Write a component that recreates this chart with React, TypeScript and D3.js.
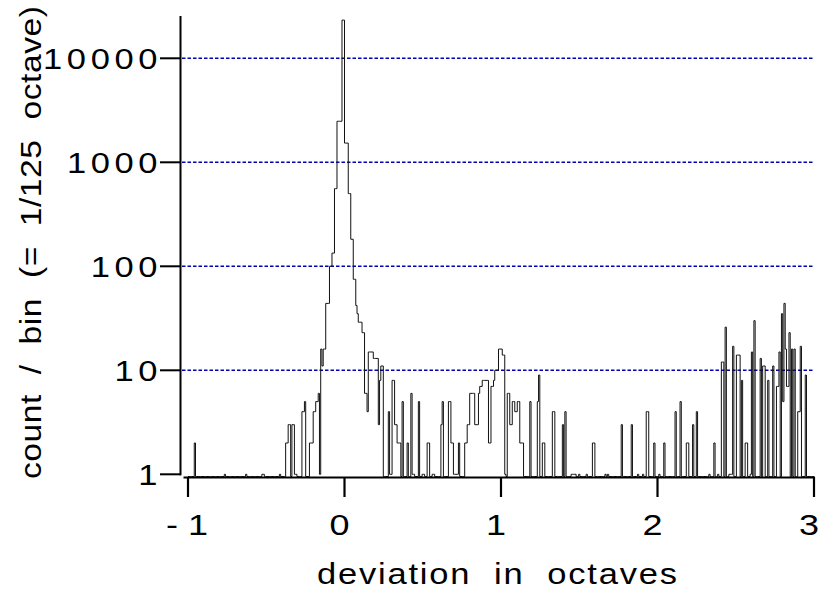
import { useEffect, useRef } from "react";
import * as d3 from "d3";

// histogram bins are 1/125 octave wide; bin k covers [k/125, (k+1)/125)
const binsPerOctave = 125;
const firstBin = -125;
const lastBin = 374;

const xTicks = [-1, 0, 1, 2, 3];
const xTickLabels = ["- 1", "0", "1", "2", "3"];
const yTicks = [1, 10, 100, 1000, 10000];
const yTickLabels = ["1", "10", "100", "1000", "10000"];
const gridValues = [10, 100, 1000, 10000];

// [bin, count] pairs (empty bins left out)
const leftTail = [
  [-120, 2], [-96, 1], [-79, 1], [-66, 1], [-65, 1], [-52, 1],
  [-47, 2], [-46, 2], [-45, 3], [-44, 3], [-42, 3], [-41, 3], [-40, 1], [-39, 1],
  [-34, 4], [-33, 4], [-32, 5],
  [-28, 2], [-27, 2], [-26, 2], [-25, 4], [-24, 4], [-23, 5], [-22, 5], [-21, 6],
  [-20, 1], [-19, 16], [-18, 11], [-17, 16], [-16, 16],
];

const centralPeak = [
  [-15, 44], [-14, 44], [-13, 44], [-12, 100], [-11, 100], [-10, 134], [-9, 134],
  [-8, 558], [-7, 558], [-6, 2480], [-5, 2480], [-4, 2480], [-3, 2480],
  [-2, 23300], [-1, 23300],
  [0, 1530], [1, 1530], [2, 1530], [3, 500], [4, 500], [5, 182], [6, 182],
  [7, 75], [8, 75], [9, 42], [10, 35], [11, 29], [12, 29], [13, 29],
  [14, 23], [15, 23], [16, 6], [17, 6], [18, 4], [19, 15], [20, 15], [21, 15], [22, 15],
  [23, 13], [24, 13], [25, 13], [26, 13], [27, 3], [28, 8], [29, 11], [30, 11],
];

const nearOneOctave = [
  [35, 4], [36, 1], [37, 1], [38, 8], [39, 8], [40, 3], [41, 3], [42, 2], [43, 2], [44, 2],
  [46, 5], [50, 2], [53, 6], [54, 1], [55, 1], [59, 5], [62, 1], [63, 1], [66, 2], [67, 2],
  [70, 1], [71, 1], [77, 3], [78, 5], [83, 5], [84, 5], [85, 2], [86, 2],
  [87, 1], [88, 1], [89, 1], [90, 1], [91, 2], [96, 2], [97, 2], [98, 3], [99, 3],
  [100, 6], [101, 6], [102, 6], [103, 6], [104, 3], [105, 3], [106, 3], [107, 6],
  [108, 7], [109, 7], [110, 8], [111, 8], [112, 8], [113, 8], [114, 8], [115, 2], [116, 2],
  [117, 7], [118, 7], [119, 8], [120, 10], [121, 10], [122, 10], [123, 16], [124, 16], [125, 16],
  [126, 14], [127, 14], [128, 1], [130, 6], [131, 6], [132, 3], [133, 3], [134, 5], [135, 5],
  [136, 4], [137, 4], [138, 5], [139, 5], [140, 2], [141, 2], [142, 2],
  [148, 5], [154, 5], [155, 9], [158, 2], [159, 2], [166, 4], [167, 4],
  [174, 3], [176, 4], [181, 1], [182, 1], [183, 1], [184, 1], [187, 1],
];

const rightTail = [
  [193, 1], [198, 2], [199, 2], [208, 1], [210, 1], [221, 3], [229, 3], [234, 1], [238, 1],
  [241, 4], [242, 4], [247, 2], [251, 1], [255, 2], [264, 4], [268, 5], [273, 2], [274, 2],
  [278, 3], [281, 4], [291, 1], [295, 2], [298, 1], [301, 12], [302, 12], [304, 26],
  [307, 1], [308, 1], [309, 1], [310, 17], [313, 14], [314, 14], [315, 14], [317, 8],
  [320, 2], [321, 2], [324, 1], [325, 15], [327, 30], [332, 13], [334, 11], [335, 11],
  [338, 8], [342, 11], [345, 7], [346, 7], [347, 15], [349, 35], [350, 5], [351, 44],
  [352, 16], [353, 7], [354, 7], [355, 23], [357, 16], [359, 16], [362, 4], [363, 4],
  [364, 17], [368, 9],
];

const FONT = "'Liberation Sans', Arial, Helvetica, sans-serif";

export default function App() {
  const ref = useRef<SVGSVGElement>(null);

  useEffect(() => {
    const svg = d3.select(ref.current);
    svg.selectAll("*").remove();

    const x = d3.scaleLinear().domain([-1, 3]).range([188, 814]);
    const y = d3.scaleLog().domain([1, 10000]).range([474.3, 58.3]);
    const base = 476.5;

    // gridlines
    svg
      .append("g")
      .selectAll("line")
      .data(gridValues)
      .join("line")
      .attr("x1", 182)
      .attr("x2", 814)
      .attr("y1", (d) => y(d))
      .attr("y2", (d) => y(d))
      .attr("stroke", "#0000b4")
      .attr("stroke-width", 1.5)
      .attr("stroke-dasharray", "3.5 2");

    // histogram as a step line
    const counts = new Map<number, number>();
    [...leftTail, ...centralPeak, ...nearOneOctave, ...rightTail].forEach(([b, c]) =>
      counts.set(b, c)
    );
    const pts: [number, number][] = [[x(firstBin / binsPerOctave), base]];
    for (let b = firstBin; b <= lastBin; b++) {
      const c = counts.get(b) || 0;
      const yy = c > 0 ? y(c) : base;
      pts.push([x(b / binsPerOctave), yy], [x((b + 1) / binsPerOctave), yy]);
    }
    pts.push([x((lastBin + 1) / binsPerOctave), base]);

    svg
      .append("path")
      .attr("d", d3.line()(pts))
      .attr("fill", "none")
      .attr("stroke", "#111")
      .attr("stroke-width", 1);

    // y axis
    svg
      .append("line")
      .attr("x1", 180.5)
      .attr("x2", 180.5)
      .attr("y1", 16)
      .attr("y2", 475.3)
      .attr("stroke", "#000")
      .attr("stroke-width", 2);

    const sx = 1.15;
    const ls = 4;
    const pitch = (16.7 + ls) * sx;
    yTicks.forEach((v, i) => {
      svg
        .append("line")
        .attr("x1", 160)
        .attr("x2", 181)
        .attr("y1", y(v))
        .attr("y2", y(v))
        .attr("stroke", "#000")
        .attr("stroke-width", 2);
      const label = yTickLabels[i];
      const x0 = 162.1 - pitch * label.length;
      svg
        .append("text")
        .attr("transform", `translate(${x0},${y(v) + 10.5}) scale(${sx},1)`)
        .attr("font-family", FONT)
        .attr("font-size", 30)
        .attr("letter-spacing", ls)
        .attr("fill", "#000")
        .text(label);
    });

    // x axis
    svg
      .append("line")
      .attr("x1", 183.5)
      .attr("x2", 815)
      .attr("y1", 477.5)
      .attr("y2", 477.5)
      .attr("stroke", "#000")
      .attr("stroke-width", 2);

    xTicks.forEach((v, i) => {
      svg
        .append("line")
        .attr("x1", x(v))
        .attr("x2", x(v))
        .attr("y1", 477)
        .attr("y2", 497)
        .attr("stroke", "#000")
        .attr("stroke-width", 2.2);
      const lx = v < 0 ? x(v) - 1 : x(v) - 5;
      svg
        .append("text")
        .attr("transform", `translate(${lx},535) scale(1.2,1)`)
        .attr("text-anchor", "middle")
        .attr("font-family", FONT)
        .attr("font-size", 30)
        .attr("fill", "#000")
        .style("white-space", "pre")
        .text(xTickLabels[i]);
    });

    // axis titles
    svg
      .append("text")
      .attr("transform", "translate(317,583.5) scale(1.15,1)")
      .attr("textLength", 360 / 1.15)
      .attr("lengthAdjust", "spacing")
      .attr("font-family", FONT)
      .attr("font-size", 30)
      .attr("fill", "#000")
      .style("white-space", "pre")
      .text("deviation  in  octaves");

    svg
      .append("text")
      .attr("transform", "translate(41,479) rotate(-90) scale(1.12,1)")
      .attr("textLength", 473 / 1.12)
      .attr("lengthAdjust", "spacing")
      .attr("font-family", FONT)
      .attr("font-size", 30)
      .attr("fill", "#000")
      .style("white-space", "pre")
      .text("count  /  bin  (=  1/125  octave)");
  }, []);

  return (
    <svg
      ref={ref}
      width={820}
      height={590}
      style={{ position: "absolute", left: 0, top: 0, background: "#fff" }}
    />
  );
}
